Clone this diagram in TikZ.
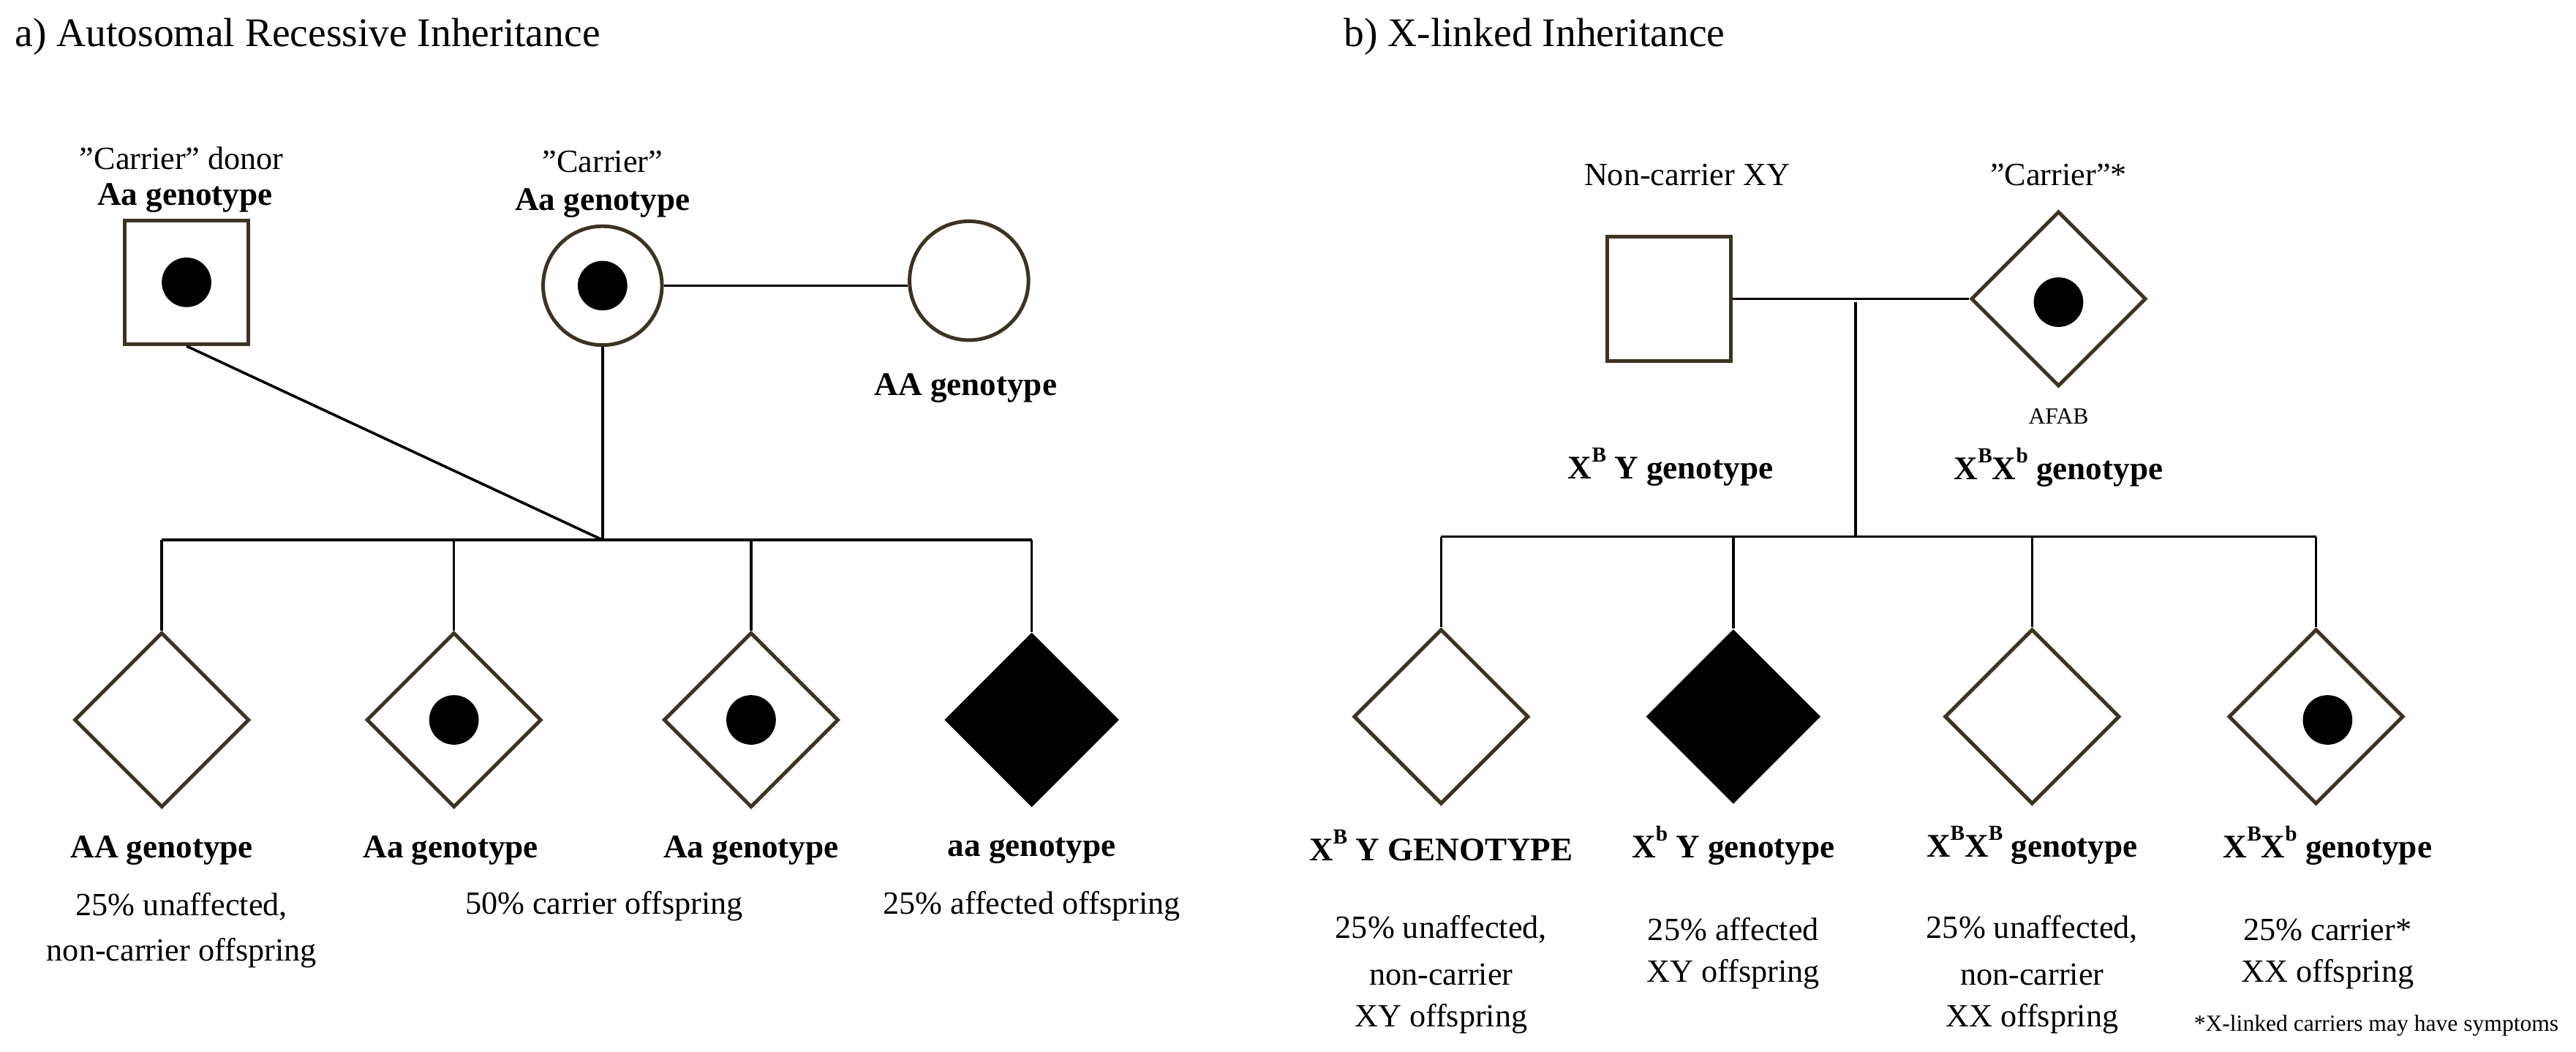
\documentclass[tikz,border=0pt]{standalone}
\usepackage{fontspec}
\setmainfont{Liberation Serif}
\usetikzlibrary{shapes.geometric}
\definecolor{brn}{HTML}{3D3320}
\newcommand\xsup[1]{X\raisebox{1.1ex}{\fontsize{6.5}{7}\selectfont #1}}
\newcommand\qq{\symbol{34}}
\begin{document}
\begin{tikzpicture}[x=0.5pt,y=-0.5pt,
  sq/.style={draw=brn,line width=1.1pt,rectangle,minimum size=37.5pt,inner sep=0pt,fill=white},
  ci/.style={draw=brn,line width=1.1pt,circle,minimum size=36pt,inner sep=0pt},
  di/.style={draw=brn,line width=1.1pt,diamond,minimum width=53pt,minimum height=53pt,inner sep=0pt},
  fd/.style={diamond,fill=black,minimum width=53pt,minimum height=53pt,inner sep=0pt},
  dot/.style={circle,fill=black,minimum size=15pt,inner sep=0pt},
  ln/.style={line width=0.8pt},
  tt/.style={font=\fontsize{12.3}{14}\selectfont,anchor=west},
  nt/.style={font=\fontsize{9.8}{14}\selectfont,align=center},
  bt/.style={font=\bfseries\fontsize{10}{13}\selectfont},
  st/.style={font=\fontsize{7}{9}\selectfont}]
\useasboundingbox (0,0) rectangle (1560.5,636.7);
% ---------- a)
\node[tt] (ta) at (2,22) {a) Autosomal Recessive Inheritance};
\node[nt] (l1) at (110,96) {\qq Carrier\qq{} donor};
\node[bt] (l2) at (112,120) {Aa genotype};
\node[sq] (don) at (113,171) {};
\node[dot] (dd) at (113,171) {};
\node[nt] (l3) at (365,98) {\qq Carrier\qq};
\node[bt] (l4) at (365,123) {Aa genotype};
\node[ci] (car) at (365,173) {};
\node[dot] (cd) at (365,173) {};
\node[ci] (nc) at (587,170) {};
\node[bt] (l5) at (585,235) {AA genotype};
\draw[ln] (car.east) -- (car.east -| nc.west);
\coordinate (ja) at (365,327);
\coordinate (sa1) at (98,327);
\coordinate (sa4) at (625,327);
\draw[ln] (don.south) -- (ja);
\draw[ln] (car.south) -- (ja);
\draw[ln] (sa1) -- (sa4);
\node[di] (a1) at (98,436) {};
\node[di] (a2) at (275,436) {};
\node[dot] at (a2) {};
\node[di] (a3) at (455,436) {};
\node[dot] at (a3) {};
\node[fd] (a4) at (625,436) {};
\foreach \n in {a1,a2,a3,a4} \draw[ln] (\n.north) -- (\n.north |- sa1);
\node[bt] at (98,515) {AA genotype};
\node[bt] at (273,515) {Aa genotype};
\node[bt] at (455,515) {Aa genotype};
\node[bt] at (625,515) {aa genotype};
\node[nt] at (110,549) {25\% unaffected,};
\node[nt] at (110,577) {non-carrier offspring};
\node[nt] at (366,549) {50\% carrier offspring};
\node[nt] at (625,549) {25\% affected offspring};
% ---------- b)
\node[tt] (tb) at (807,22) {b) X-linked Inheritance};
\node[nt] at (1022,106) {Non-carrier XY};
\node[nt] at (1247,106) {\qq Carrier\qq*};
\node[sq] (fa) at (1011,181) {};
\node[di] (mo) at (1247,181) {};
\node[dot] at (1247,183) {};
\draw[ln] (fa.east) -- (mo.west);
\coordinate (jb) at (1124,183);
\coordinate (sb) at (1124,325);
\draw[ln] (jb) -- (sb);
\node[st] at (1247,252) {AFAB};
\node[bt] at (1012,283) {\xsup{B} Y genotype};
\node[bt] at (1247,283) {\xsup{B}\xsup{b} genotype};
\node[di] (b1) at (873,434) {};
\node[fd] (b2) at (1050,434) {};
\node[di] (b3) at (1231,434) {};
\node[di] (b4) at (1403,434) {};
\node[dot] at (1410,436) {};
\draw[ln] (b1.north |- sb) -- (b4.north |- sb);
\foreach \n in {b1,b2,b3,b4} \draw[ln] (\n.north) -- (\n.north |- sb);
\node[bt] at (873,512) {\xsup{B} Y GENOTYPE};
\node[bt] at (1050,512) {\xsup{b} Y genotype};
\node[bt] at (1231,512) {\xsup{B}\xsup{B} genotype};
\node[bt] at (1410,512) {\xsup{B}\xsup{b} genotype};
\node[nt] at (873,563) {25\% unaffected,};
\node[nt] at (873,590) {non-carrier};
\node[nt] at (873,617) {XY offspring};
\node[nt] at (1050,563) {25\% affected};
\node[nt] at (1050,590) {XY offspring};
\node[nt] at (1231,563) {25\% unaffected,};
\node[nt] at (1231,590) {non-carrier};
\node[nt] at (1231,617) {XX offspring};
\node[nt] at (1410,563) {25\% carrier*};
\node[nt] at (1410,590) {XX offspring};
\node[st,anchor=east] at (1557,621) {*X-linked carriers may have symptoms};
\end{tikzpicture}
\end{document}
